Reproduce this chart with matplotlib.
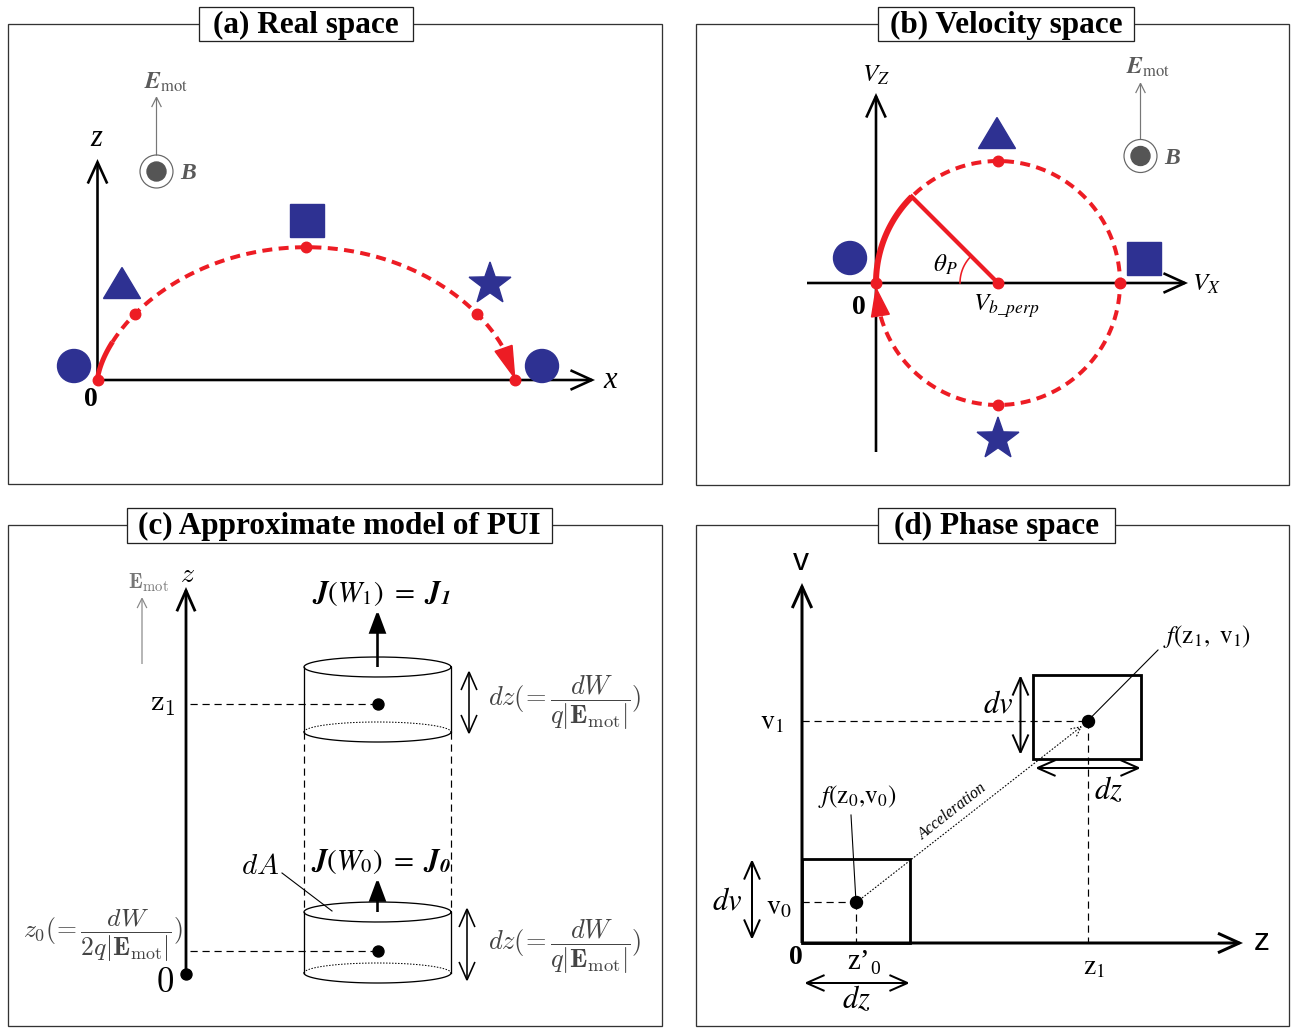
import numpy as np
import matplotlib
matplotlib.use('Agg')
import matplotlib.pyplot as plt
from matplotlib.patches import Rectangle, Ellipse, Polygon, FancyArrowPatch

# ---------------- data / geometry (pixel units, y downward) ----------------
panel_titles = ["(a) Real space", "(b) Velocity space",
                "(c) Approximate model of PUI", "(d) Phase space"]
panel_frames = [(8, 24, 662, 484), (696, 24, 1289, 485),
                (8, 525, 662, 1026), (696, 525, 1289, 1026)]
title_boxes = [(199, 7, 413, 41), (878, 7, 1134, 41),
               (127, 508, 552, 543), (878, 508, 1115, 543)]

# (a) real space: cycloid of a pickup ion
a_origin = (97.5, 380.0)
a_gyro_radius = 66.4
a_thick_end_phase = 1.13
a_marker_phase = [0.5 * np.pi, np.pi, 1.5 * np.pi, 2 * np.pi]
a_symbols = ["circle", "triangle", "square", "star", "circle"]
a_symbol_xy = [(74, 366), (122, 283), (307, 220), (490, 284), (542, 366)]

# (b) velocity space: ring
b_center = (998.0, 283.0)
b_radius = 122.0
b_thick_deg = (135.0, 180.0)
b_symbols = ["circle", "triangle", "square", "star"]
b_symbol_xy = [(850, 258), (997, 133), (1144, 258), (998, 439)]

# (c) approximate model
c_axis_x = 186
c_levels = [951, 704]          # z0, z1
c_cyl_x = (304, 451)
c_cyl_upper = (667, 732)
c_cyl_lower = (912, 973)

# (d) phase space
d_origin = (802, 943)
d_boxes = [(802, 859, 910, 943), (1033, 675, 1141, 759)]
d_points = [(856, 902), (1087.5, 721)]

RED = '#ED1C24'
BLUE = '#2E3192'
GRAY = '#5a5a5a'
SERIF = 'Liberation Serif'
SANS = 'Liberation Sans'

W, H = 1294, 1028
fig = plt.figure(figsize=(W / 100, H / 100), dpi=100)
ax = fig.add_axes([0, 0, 1, 1])
ax.set_xlim(0, W)
ax.set_ylim(H, 0)
ax.axis('off')

PX = 0.72  # points per pixel


def arrow(p0, p1, style='->', lw=2.0, color='k', ms=20, z=3, ls='solid'):
    a = FancyArrowPatch(p0, p1, arrowstyle=style, lw=lw * PX, color=color,
                        mutation_scale=ms, shrinkA=0, shrinkB=0, zorder=z,
                        joinstyle='miter', capstyle='butt', linestyle=ls)
    ax.add_patch(a)
    return a


def star_pts(cx, cy, R, ratio=0.40):
    pts = []
    for k in range(10):
        ang = np.pi / 2 + k * np.pi / 5
        rr = R if k % 2 == 0 else R * ratio
        pts.append((cx + rr * np.cos(ang), cy - rr * np.sin(ang)))
    return pts


def symbol(kind, xy):
    x, y = xy
    if kind == 'circle':
        ax.add_patch(Ellipse((x, y), 33, 33, color=BLUE, zorder=4))
    elif kind == 'triangle':
        ax.add_patch(Polygon([(x - 18.5, y + 15.5), (x + 18.5, y + 15.5), (x, y - 15.5)],
                             closed=True, color=BLUE, zorder=4))
    elif kind == 'square':
        ax.add_patch(Rectangle((x - 17, y - 16.5), 34, 33, color=BLUE, zorder=4))
    elif kind == 'star':
        ax.add_patch(Polygon(star_pts(x, y, 22), closed=True, color=BLUE, zorder=4))


def emot_b(xE, yE, x_arrow, y_top, y_circ, xB):
    ax.text(xE, yE, r'$\mathbfit{E}_{\mathrm{mot}}$', fontsize=17, color=GRAY,
            ha='center', va='center', math_fontfamily='stix')
    arrow((x_arrow, y_circ - 16), (x_arrow, y_top), style='->,head_length=0.5,head_width=0.25',
          lw=1.2, color='#777777', ms=14)
    ax.add_patch(Ellipse((x_arrow, y_circ), 33, 33, fill=False, ec='#666666', lw=1.2 * PX, zorder=3))
    ax.add_patch(Ellipse((x_arrow, y_circ), 19, 19, color='#555555', zorder=3))
    ax.text(xB, y_circ + 2, 'B', fontsize=17, color=GRAY, fontfamily=SERIF,
            fontweight='bold', fontstyle='italic', ha='center', va='center')


# ---------------- frames and titles ----------------
for (x0, y0, x1, y1) in panel_frames:
    ax.add_patch(Rectangle((x0, y0), x1 - x0, y1 - y0, fill=False, ec='#333333', lw=1.3 * PX, zorder=1))
for (x0, y0, x1, y1), t in zip(title_boxes, panel_titles):
    ax.add_patch(Rectangle((x0, y0), x1 - x0, y1 - y0, fc='white', ec='#222222', lw=1.3 * PX, zorder=2))
    ax.text((x0 + x1) / 2, (y0 + y1) / 2 + 1, t, fontsize=22.5, fontweight='bold', fontfamily=SERIF,
            ha='center', va='center', zorder=3)

# ---------------- panel (a) ----------------
ox, oy = a_origin
Rg = a_gyro_radius


def cyc(th):
    th = np.asarray(th)
    return ox + Rg * (th - np.sin(th)), oy - Rg * (1 - np.cos(th))


arrow((ox, oy), (595, oy), style='->,head_length=0.55,head_width=0.25', lw=2.6, ms=28)
arrow((ox, oy), (ox, 159), style='->,head_length=0.55,head_width=0.25', lw=2.6, ms=28)
ax.text(610, 380, 'x', fontsize=22, fontstyle='italic', fontfamily=SERIF, ha='center', va='center')
ax.text(96, 139, 'z', fontsize=22, fontstyle='italic', fontfamily=SERIF, ha='center', va='center')
ax.text(91, 399, '0', fontsize=20, fontweight='bold', fontfamily=SERIF, ha='center', va='center')

th_thick = np.linspace(0, a_thick_end_phase, 60)
ax.plot(*cyc(th_thick), color=RED, lw=5 * PX, solid_capstyle='butt', zorder=5)
th_base = 2 * np.pi - 1.02
th_dash = np.linspace(a_thick_end_phase, th_base, 400)
ax.plot(*cyc(th_dash), color=RED, lw=4 * PX, ls=(0, (2.5, 1.6)), zorder=5)
# arrow head at the end of the trajectory
bx, by = cyc(th_base)
tx, ty = cyc(2 * np.pi)
d = np.array([tx - bx, ty - by]); d /= np.hypot(*d)
n = np.array([-d[1], d[0]])
ax.add_patch(Polygon([(bx + 9 * n[0], by + 9 * n[1]), (bx - 9 * n[0], by - 9 * n[1]), (tx, ty - 2)],
                     closed=True, color=RED, zorder=5))
px, py = cyc(np.array([0.0] + a_marker_phase))
ax.plot(px, py, 'o', color=RED, ms=10.5 * PX, zorder=6, lw=0)
for k, xy in zip(a_symbols, a_symbol_xy):
    symbol(k, xy)
emot_b(166, 82, 156.5, 96, 171.5, 188)

# ---------------- panel (b) ----------------
cx, cy = b_center
arrow((807, cy), (1188, cy), style='->,head_length=0.55,head_width=0.25', lw=2.6, ms=28)
arrow((876, 452), (876, 93), style='->,head_length=0.55,head_width=0.25', lw=2.6, ms=28)
ax.text(876, 75, r'$V_Z$', fontsize=18, math_fontfamily='stix', ha='center', va='center')
ax.text(1206, 284, r'$V_X$', fontsize=18, math_fontfamily='stix', ha='center', va='center')
ax.text(1006, 306, r'$V_{b\_perp}$', fontsize=18, math_fontfamily='stix', ha='center', va='center')
ax.text(945, 265, r'$\theta_P$', fontsize=18, math_fontfamily='stix', ha='center', va='center')
ax.text(859, 307, '0', fontsize=20, fontweight='bold', fontfamily=SERIF, ha='center', va='center')


def ring(deg):
    r = np.radians(deg)
    return cx + b_radius * np.cos(r), cy - b_radius * np.sin(r)


ang_dash = np.linspace(196, 360 + b_thick_deg[0], 600)
ax.plot(*ring(ang_dash), color=RED, lw=4 * PX, ls=(0, (2.5, 1.6)), zorder=5)
ang_thick = np.linspace(b_thick_deg[0], b_thick_deg[1], 80)
ax.plot(*ring(ang_thick), color=RED, lw=6 * PX, solid_capstyle='butt', zorder=5)
ex, ey = ring(b_thick_deg[0])
ax.plot([ex, cx], [ey, cy], color=RED, lw=4.2 * PX, zorder=5)
ang_small = np.radians(np.linspace(b_thick_deg[0], 180, 40))
ax.plot(cx + 38 * np.cos(ang_small), cy - 38 * np.sin(ang_small), color=RED, lw=1.6 * PX, zorder=5)
# arrowhead at origin (pointing up)
bx, by = ring(195.5)
tx, ty = ring(182.5)
d = np.array([tx - bx, ty - by]); d /= np.hypot(*d)
n = np.array([-d[1], d[0]])
ax.add_patch(Polygon([(bx + 9 * n[0], by + 9 * n[1]), (bx - 9 * n[0], by - 9 * n[1]), (tx, ty)],
                     closed=True, color=RED, zorder=5))
dots = [ring(180), ring(90), ring(0), ring(270), (cx, cy)]
ax.plot([p[0] for p in dots], [p[1] for p in dots], 'o', color=RED, ms=10.5 * PX, zorder=6, lw=0)
for k, xy in zip(b_symbols, b_symbol_xy):
    symbol(k, xy)
emot_b(1148, 67, 1140.5, 82, 156, 1172)

# ---------------- panel (c) ----------------
CM = dict(math_fontfamily='cm')
arrow((c_axis_x, 974), (c_axis_x, 587), style='->,head_length=0.5,head_width=0.22', lw=2.8, ms=30)
ax.plot([c_axis_x], [974], 'o', color='k', ms=11 * PX, zorder=4)
ax.text(c_axis_x + 1, 574, r'$z$', fontsize=20, ha='center', va='center', **CM)
ax.text(165, 982, r'$0$', fontsize=25, ha='center', va='center', **CM)
ax.text(163, 703, r'$\mathrm{z}_1$', fontsize=22, ha='center', va='center', **CM)
ax.text(103, 936, r'$z_0(\!=\dfrac{dW}{2q|\mathbf{E}_{\mathrm{mot}}|})$', fontsize=18.5,
        color='#444444', ha='center', va='center', **CM)
ax.text(148, 583, r'$\mathbf{E}_{\mathrm{mot}}$', fontsize=15, color='#777777', ha='center', va='center', **CM)
arrow((142, 664), (142, 597), style='->,head_length=0.5,head_width=0.25', lw=1.2, color='#888888', ms=14)

for yl in c_levels:
    ax.plot([190, 377.5], [yl, yl], color='k', lw=1.2 * PX, ls=(0, (6, 4)), zorder=3)
    ax.plot([377.5], [yl], 'o', color='k', ms=11 * PX, zorder=4)

xl, xr = c_cyl_x
xc = (xl + xr) / 2
a_e = (xr - xl) / 2
b_e = 10
t = np.linspace(0, 2 * np.pi, 200)
for (ytop, ybot) in (c_cyl_upper, c_cyl_lower):
    ax.plot(xc + a_e * np.cos(t), ytop + b_e * np.sin(t), color='k', lw=1.3 * PX, zorder=3)
    tf = np.linspace(0, np.pi, 100)
    ax.plot(xc + a_e * np.cos(tf), ybot + b_e * np.sin(tf), color='k', lw=1.3 * PX, zorder=3)
    tb = np.linspace(np.pi, 2 * np.pi, 100)
    ax.plot(xc + a_e * np.cos(tb), ybot + b_e * np.sin(tb), color='k', lw=1.0 * PX,
            ls=(0, (1.5, 1.5)), zorder=3)
    ax.plot([xl, xl], [ytop, ybot], color='k', lw=1.3 * PX, zorder=3)
    ax.plot([xr, xr], [ytop, ybot], color='k', lw=1.3 * PX, zorder=3)
for xs in (xl, xr):
    ax.plot([xs, xs], [c_cyl_upper[1], c_cyl_lower[0]], color='k', lw=1.2 * PX, ls=(0, (6, 4)), zorder=3)

arrow((xc, c_cyl_upper[0]), (xc, 610), style='-|>,head_length=0.75,head_width=0.28', lw=2.6, ms=18)
arrow((xc, c_cyl_lower[0]), (xc, 878), style='-|>,head_length=0.75,head_width=0.28', lw=2.6, ms=18)
ax.text(381, 593, r'$\mathbfit{J}(W_{\mathit{1}})\ =\ \mathbfit{J}_{\mathbfit{1}}$', fontsize=21,
        ha='center', va='center', math_fontfamily='stix')
ax.text(381, 862, r'$\mathbfit{J}(W_{\mathit{0}})\ =\ \mathbfit{J}_{\mathbfit{0}}$', fontsize=21,
        ha='center', va='center', math_fontfamily='stix')
ax.text(260, 866, r'$dA$', fontsize=21, ha='center', va='center', **CM)
ax.plot([282, 332], [873, 911], color='k', lw=1.1 * PX, zorder=3)

arrow((469, 670), (469, 735), style='<->,head_length=0.5,head_width=0.22', lw=1.6, ms=26)
arrow((467, 907), (467, 982), style='<->,head_length=0.5,head_width=0.22', lw=1.6, ms=26)
ax.text(565, 703, r'$dz(\!=\dfrac{dW}{q|\mathbf{E}_{\mathrm{mot}}|})$', fontsize=19, color='#444444',
        ha='center', va='center', **CM)
ax.text(565, 947, r'$dz(\!=\dfrac{dW}{q|\mathbf{E}_{\mathrm{mot}}|})$', fontsize=19, color='#444444',
        ha='center', va='center', **CM)

# ---------------- panel (d) ----------------
dx0, dy0 = d_origin
arrow((dx0, dy0), (dx0, 583), style='->,head_length=0.55,head_width=0.25', lw=3, ms=28)
arrow((dx0, dy0), (1243, dy0), style='->,head_length=0.55,head_width=0.25', lw=3, ms=28)
ax.text(801, 562, 'v', fontsize=23, fontfamily=SANS, ha='center', va='center')
ax.text(1262, 942, 'z', fontsize=23, fontfamily=SANS, ha='center', va='center')
ax.text(796, 957, '0', fontsize=20, fontweight='bold', fontfamily=SERIF, ha='center', va='center')
for (x0, y0, x1, y1) in d_boxes:
    ax.add_patch(Rectangle((x0, y0), x1 - x0, y1 - y0, fill=False, ec='k', lw=2.8 * PX, zorder=3))
for (xp, yp) in d_points:
    ax.plot([dx0, xp], [yp, yp], color='k', lw=1.2 * PX, ls=(0, (6, 4)), zorder=3)
    ax.plot([xp, xp], [yp, dy0], color='k', lw=1.2 * PX, ls=(0, (6, 4)), zorder=3)
    ax.plot([xp], [yp], 'o', color='k', ms=12 * PX, zorder=4)
ax.text(772, 721, r'$\mathrm{v}_1$', fontsize=20, ha='center', va='center', math_fontfamily='stix')
ax.text(779, 906, r'$\mathrm{v}_0$', fontsize=20, ha='center', va='center', math_fontfamily='stix')
ax.text(858, 962, 'z\u2019', fontsize=21, fontfamily=SERIF, ha='center', va='center')
ax.text(875, 969, '0', fontsize=14, fontfamily=SERIF, ha='center', va='center')
ax.text(1094, 966, r'$\mathrm{z}_1$', fontsize=20, ha='center', va='center', math_fontfamily='stix')

arrow((752, 859), (752, 940), style='<->,head_length=0.5,head_width=0.22', lw=2, ms=26)
arrow((1020.5, 675), (1020.5, 755), style='<->,head_length=0.5,head_width=0.22', lw=2, ms=26)
arrow((804, 983), (910, 983), style='<->,head_length=0.5,head_width=0.22', lw=2, ms=26)
arrow((1035, 768), (1141, 768), style='<->,head_length=0.5,head_width=0.22', lw=2, ms=26)
ax.text(727, 901, r'$dv$', fontsize=22, ha='center', va='center', math_fontfamily='stix')
ax.text(998, 704, r'$dv$', fontsize=22, ha='center', va='center', math_fontfamily='stix')
ax.text(856, 999, r'$dz$', fontsize=22, ha='center', va='center', math_fontfamily='stix')
ax.text(1108, 790, r'$dz$', fontsize=22, ha='center', va='center', math_fontfamily='stix')

arrow((862, 898), (1082, 726), style='->,head_length=0.5,head_width=0.25', lw=1.1, ms=14,
      ls=(0, (1.5, 1.5)))
ax.text(953, 812, 'Acceleration', fontsize=11.5, fontstyle='italic', fontfamily=SERIF,
        rotation=38, ha='center', va='center')
ax.text(857, 796, r'$f(\mathrm{z}_0{,}\mathrm{v}_0)$', fontsize=18, ha='center', va='center',
        math_fontfamily='stix')
ax.plot([851, 856], [815, 902], color='k', lw=1.1 * PX, zorder=3)
ax.text(1207, 637, r'$f(\mathrm{z}_1,\ \mathrm{v}_1)$', fontsize=18, ha='center', va='center',
        math_fontfamily='stix')
ax.plot([1158, 1087.5], [650, 721], color='k', lw=1.1 * PX, zorder=3)

fig.savefig('out.png', dpi=100)
